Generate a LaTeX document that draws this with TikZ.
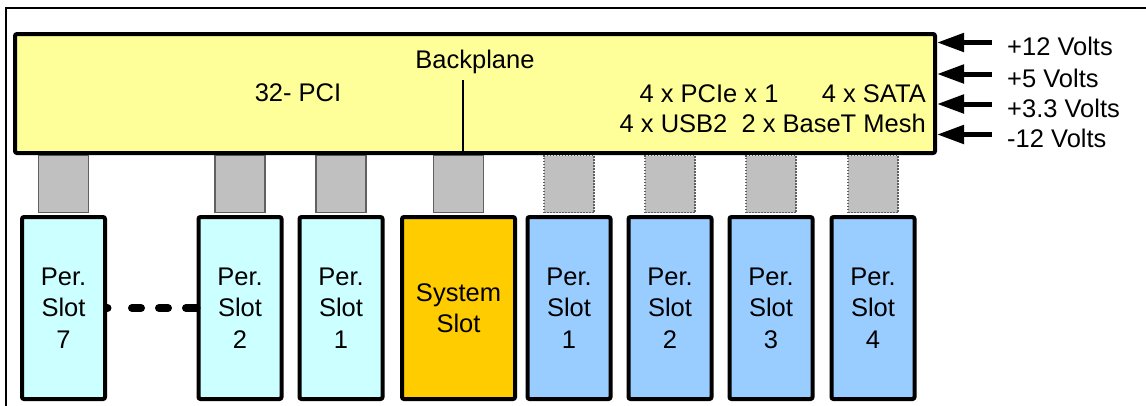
\documentclass[tikz,border=0pt]{standalone}
\usepackage{fontspec}
\setmainfont{Liberation Sans}
\usetikzlibrary{arrows.meta}
\definecolor{planefill}{HTML}{FFFF99}
\definecolor{cyanslot}{HTML}{CCFFFF}
\definecolor{blueslot}{HTML}{99CCFF}
\definecolor{sysslot}{HTML}{FFCC00}
\definecolor{connfill}{HTML}{C0C0C0}
\definecolor{connline}{HTML}{606060}
\begin{document}
\begin{tikzpicture}[
  every node/.style = {font = \fontsize{25.5}{31.5}\selectfont},
  planeblock/.style = {rectangle, draw, line width = 4pt, rounded corners = 2pt, fill = planefill, inner sep = 0pt, minimum width = 920pt, minimum height = 119pt},
  slotblock/.style = {rectangle, draw, line width = 4pt, rounded corners = 2pt, align = center, inner sep = 0pt, minimum width = 83pt, minimum height = 182pt},
  leftslot/.style = {slotblock, fill = cyanslot},
  rightslot/.style = {slotblock, fill = blueslot},
  sysblock/.style = {slotblock, fill = sysslot, minimum width = 113pt},
  connblock/.style = {rectangle, draw = connline, fill = connfill, line width = 1.2pt, inner sep = 0pt, minimum width = 50pt, minimum height = 57pt},
  optblock/.style = {connblock, dash pattern = on 1.5pt off 1.5pt},
  voltlabel/.style = {anchor = west, inner xsep = 15pt, inner ysep = 0pt},
  voltarrow/.style = {-{Triangle[length = 27pt, width = 18pt]}, line width = 5pt},
  x = 1pt,
  y = -1pt
]
  \useasboundingbox (0, 0) rectangle (1146, 405);
  \clip (0, 0) rectangle (1146, 405);
  \draw[line width = 2pt] (6, 7.5) rectangle (1170, 430);

  % connectors between backplane and slots
  \node[connblock] (c7) at (63.5, 184) {};
  \node[connblock] (c2) at (240, 184) {};
  \node[connblock] (c1) at (341, 184) {};
  \node[connblock] (cs) at (458.5, 184) {};
  \node[optblock]  (d1) at (569, 184) {};
  \node[optblock]  (d2) at (670, 184) {};
  \node[optblock]  (d3) at (771, 184) {};
  \node[optblock]  (d4) at (873, 184) {};

  \node[planeblock] (bp) at (475, 93.5) {};
  \node (bpl) at (475, 62) {Backplane};
  \node (pci) at (298, 93) {32- PCI};
  \node (pcie) at (709, 94) {4 x PCIe x 1};
  \node[anchor = east, inner sep = 0pt] (sata) at (926, 94) {4 x SATA};
  \node[anchor = east, inner sep = 0pt] (mesh) at (926, 123) {4 x USB2\ \ 2 x BaseT Mesh};
  \coordinate (bll) at (463, 80);
  \draw[line width = 1.3pt] (bll) -- (bll |- bp.south);

  \node[leftslot]  (p7) at (63.5, 308) {Per.\\Slot\\7};
  \node[leftslot]  (p2) at (240, 308) {Per.\\Slot\\2};
  \node[leftslot]  (p1) at (341, 308) {Per.\\Slot\\1};
  \node[sysblock]  (sys) at (458.5, 308) {System\\Slot};
  \node[rightslot] (q1) at (569, 308) {Per.\\Slot\\1};
  \node[rightslot] (q2) at (670, 308) {Per.\\Slot\\2};
  \node[rightslot] (q3) at (771, 308) {Per.\\Slot\\3};
  \node[rightslot] (q4) at (873, 308) {Per.\\Slot\\4};

  \draw[line width = 8pt, line cap = round, dash pattern = on 0.5pt off 24.5pt on 9pt off 18pt on 9pt off 18pt on 20pt off 10pt] (p7) -- (p2);

  % supply voltages
  \node[voltlabel] (v12) at (992, 46.5) {+12 Volts};
  \node[voltlabel] (v5)  at (992, 78) {+5 Volts};
  \node[voltlabel] (v33) at (992, 108) {+3.3 Volts};
  \node[voltlabel] (vm12) at (992, 138.5) {-12 Volts};

  \draw[voltarrow] ([yshift = 4pt]v12.west) -- ([yshift = 4pt]v12.west -| bp.east);
  \draw[voltarrow] ([yshift = 4pt]v5.west) -- ([yshift = 4pt]v5.west -| bp.east);
  \draw[voltarrow] ([yshift = 4pt]v33.west) -- ([yshift = 4pt]v33.west -| bp.east);
  \draw[voltarrow] ([yshift = 4pt]vm12.west) -- ([yshift = 4pt]vm12.west -| bp.east);
\end{tikzpicture}
\end{document}
